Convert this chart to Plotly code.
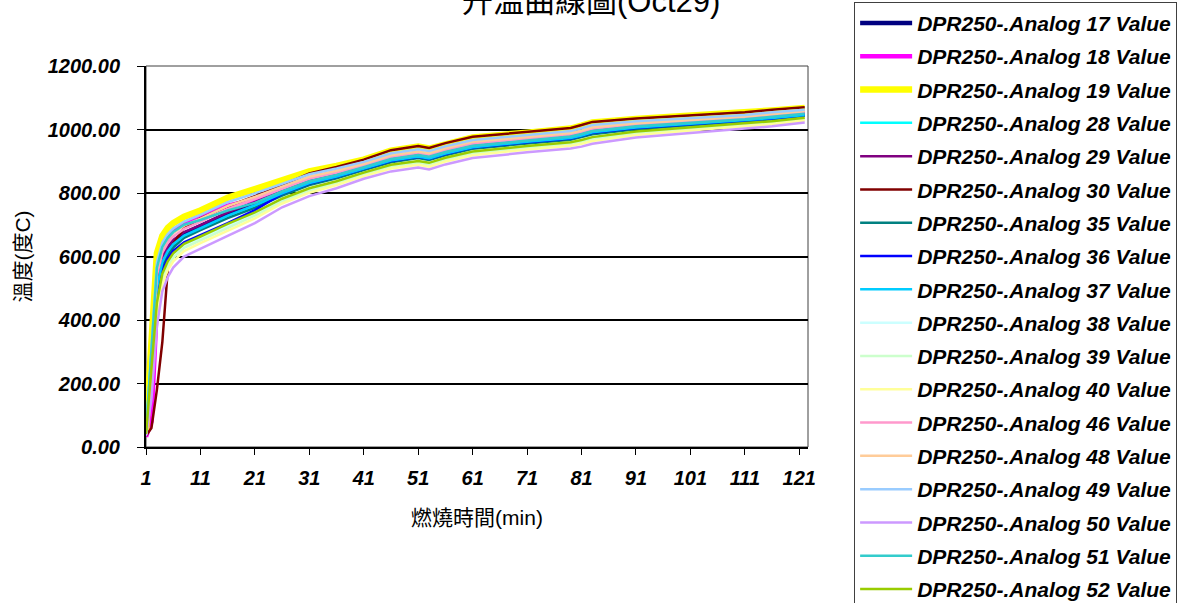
import plotly.graph_objects as go

# burn time (min) at the sampled points
minutes = [1, 2, 3, 4, 5, 6, 8, 11, 16, 21, 26, 31, 36, 41, 46, 51, 53, 56, 61, 71, 79, 81, 83, 91, 101, 111, 116, 122]

# temperature readings (deg C), one list per thermocouple channel
analog_17 = [37, 220, 513, 591, 625, 646, 672, 695, 735, 767, 803, 835, 856, 880, 906, 918, 912, 928, 948, 964, 977, 984, 994, 1009, 1020, 1031, 1039, 1049]
analog_18 = [32, 80, 450, 610, 660, 680, 705, 728, 760, 780, 809, 841, 860, 884, 910, 923, 917, 932, 952, 968, 981, 989, 999, 1013, 1024, 1035, 1043, 1052]
analog_19 = [48, 340, 610, 665, 690, 705, 725, 745, 785, 812, 838, 868, 885, 905, 933, 946, 940, 955, 975, 990, 1003, 1012, 1022, 1033, 1042, 1052, 1060, 1068]
analog_28 = [45, 300, 495, 577, 612, 635, 662, 685, 725, 758, 796, 829, 850, 875, 901, 913, 907, 923, 943, 960, 973, 981, 990, 1005, 1017, 1028, 1036, 1046]
analog_29 = [36, 230, 523, 598, 631, 652, 677, 699, 739, 771, 806, 838, 858, 882, 908, 921, 915, 930, 950, 966, 979, 987, 997, 1011, 1022, 1033, 1041, 1051]
analog_30 = [35, 60, 180, 330, 560, 640, 690, 720, 758, 790, 825, 862, 882, 905, 935, 948, 942, 957, 977, 992, 1005, 1014, 1024, 1035, 1044, 1054, 1062, 1070]
analog_35 = [42, 260, 483, 569, 605, 628, 659, 683, 721, 753, 792, 825, 846, 872, 897, 910, 904, 919, 939, 956, 968, 976, 985, 1001, 1013, 1025, 1032, 1043]
analog_36 = [40, 200, 467, 556, 594, 618, 645, 667, 705, 746, 798, 830, 851, 876, 901, 914, 908, 923, 943, 960, 972, 980, 990, 1005, 1017, 1028, 1035, 1045]
analog_37 = [43, 280, 502, 583, 617, 639, 666, 689, 729, 762, 799, 831, 852, 877, 902, 915, 909, 924, 944, 961, 973, 981, 991, 1006, 1018, 1029, 1036, 1046]
analog_38 = [39, 190, 440, 535, 575, 601, 632, 656, 696, 733, 777, 810, 833, 861, 885, 897, 891, 907, 927, 944, 956, 963, 972, 990, 1004, 1016, 1023, 1034]
analog_39 = [40, 210, 431, 528, 569, 596, 627, 651, 691, 729, 773, 807, 830, 858, 882, 895, 889, 904, 924, 942, 954, 961, 970, 988, 1001, 1014, 1021, 1032]
analog_40 = [41, 220, 412, 514, 557, 585, 617, 642, 682, 720, 767, 801, 825, 853, 877, 889, 883, 899, 919, 937, 949, 955, 964, 983, 997, 1010, 1017, 1028]
analog_46 = [38, 250, 541, 612, 643, 663, 687, 709, 749, 780, 813, 845, 864, 887, 913, 926, 920, 935, 955, 971, 984, 992, 1002, 1016, 1026, 1037, 1045, 1054]
analog_48 = [40, 270, 559, 626, 656, 674, 697, 719, 759, 788, 820, 851, 870, 892, 919, 931, 925, 941, 961, 976, 989, 997, 1007, 1020, 1031, 1041, 1049, 1058]
analog_49 = [42, 300, 582, 644, 671, 688, 710, 731, 771, 799, 828, 859, 877, 898, 925, 938, 932, 947, 967, 983, 995, 1004, 1014, 1026, 1036, 1046, 1054, 1062]
analog_50 = [35, 150, 380, 490, 535, 565, 600, 625, 665, 705, 755, 790, 815, 845, 868, 880, 874, 890, 910, 928, 940, 946, 955, 975, 990, 1003, 1010, 1022]
analog_51 = [44, 310, 564, 630, 659, 677, 700, 715, 745, 769, 805, 837, 857, 881, 907, 920, 914, 929, 949, 965, 978, 986, 995, 1010, 1021, 1032, 1040, 1050]
analog_52 = [41, 240, 454, 546, 585, 610, 640, 663, 703, 739, 782, 815, 837, 864, 889, 901, 895, 911, 931, 948, 960, 967, 976, 994, 1007, 1019, 1026, 1037]

x_ticks = [1, 11, 21, 31, 41, 51, 61, 71, 81, 91, 101, 111, 121]
y_ticks = [0, 200, 400, 600, 800, 1000, 1200]

series = [
    ("DPR250-.Analog 17 Value", analog_17, "#000080", 4.5),
    ("DPR250-.Analog 18 Value", analog_18, "#FF00FF", 4.5),
    ("DPR250-.Analog 19 Value", analog_19, "#FFFF00", 6.5),
    ("DPR250-.Analog 28 Value", analog_28, "#00FFFF", 2.5),
    ("DPR250-.Analog 29 Value", analog_29, "#800080", 2.5),
    ("DPR250-.Analog 30 Value", analog_30, "#800000", 2.5),
    ("DPR250-.Analog 35 Value", analog_35, "#008080", 2.5),
    ("DPR250-.Analog 36 Value", analog_36, "#0000FF", 2.5),
    ("DPR250-.Analog 37 Value", analog_37, "#00CCFF", 2.5),
    ("DPR250-.Analog 38 Value", analog_38, "#CCFFFF", 2.5),
    ("DPR250-.Analog 39 Value", analog_39, "#CCFFCC", 2.5),
    ("DPR250-.Analog 40 Value", analog_40, "#FFFF99", 2.5),
    ("DPR250-.Analog 46 Value", analog_46, "#FF99CC", 2.5),
    ("DPR250-.Analog 48 Value", analog_48, "#FFCC99", 2.5),
    ("DPR250-.Analog 49 Value", analog_49, "#99CCFF", 2.5),
    ("DPR250-.Analog 50 Value", analog_50, "#CC99FF", 2.5),
    ("DPR250-.Analog 51 Value", analog_51, "#33CCCC", 2.5),
    ("DPR250-.Analog 52 Value", analog_52, "#99CC00", 2.5),
]

FONT = "Liberation Sans, Arial, Noto Sans CJK TC, sans-serif"

fig = go.Figure()
for name, values, color, width in series:
    fig.add_trace(go.Scatter(
        x=minutes, y=values, name=name, mode="lines",
        legendgroup=name,
        line=dict(color=color, width=width),
    ))

# plot-area frame (thin right/top edge like the original)
fig.add_shape(type="rect", xref="paper", yref="paper", x0=0, x1=1, y0=0, y1=1,
              line=dict(color="#404040", width=1), layer="below")

fig.add_annotation(
    text="升溫曲線圖(Oct29)", xref="paper", yref="paper", x=0.672, y=1.168,
    xanchor="center", yanchor="middle", showarrow=False,
    font=dict(family=FONT, size=31, color="black"),
)

fig.update_layout(
    width=1183, height=603,
    margin=dict(l=146, r=375, t=66, b=156),
    paper_bgcolor="white", plot_bgcolor="white",
    font=dict(family=FONT, color="black"),
    showlegend=True,
    legend=dict(
        xref="container", yref="container", x=0.722, y=0.997,
        xanchor="left", yanchor="top",
        bordercolor="#404040", borderwidth=1, bgcolor="white",
        font=dict(family=FONT, size=21, color="black", style="italic", weight="bold"),
        itemwidth=52, tracegroupgap=3, traceorder="grouped",
        maxheight=900,
    ),
    xaxis=dict(
        range=[1, 122.6], tickvals=x_ticks, ticktext=[str(v) for v in x_ticks],
        showgrid=False, zeroline=False,
        showline=True, linecolor="black", linewidth=2,
        ticks="outside", ticklen=6, tickwidth=1, tickcolor="black",
        ticklabelstandoff=6,
        tickfont=dict(family=FONT, size=20, style="italic", weight="bold"),
        title=dict(text="燃燒時間(min)", font=dict(family=FONT, size=21), standoff=22),
    ),
    yaxis=dict(
        range=[0, 1200], tickvals=y_ticks, tickformat=".2f",
        showgrid=True, gridcolor="black", gridwidth=2, zeroline=False,
        showline=True, linecolor="black", linewidth=2,
        ticks="outside", ticklen=7, tickwidth=1, tickcolor="black",
        ticklabelstandoff=13,
        tickfont=dict(family=FONT, size=20, style="italic", weight="bold"),
        title=dict(text="溫度(度C)", font=dict(family=FONT, size=21), standoff=11),
    ),
)

# drop the default page margin so the chart sits at the window's top-left corner
fig.write_html("out.html", config={"displayModeBar": False},
               post_script="document.body.style.margin='0';")
